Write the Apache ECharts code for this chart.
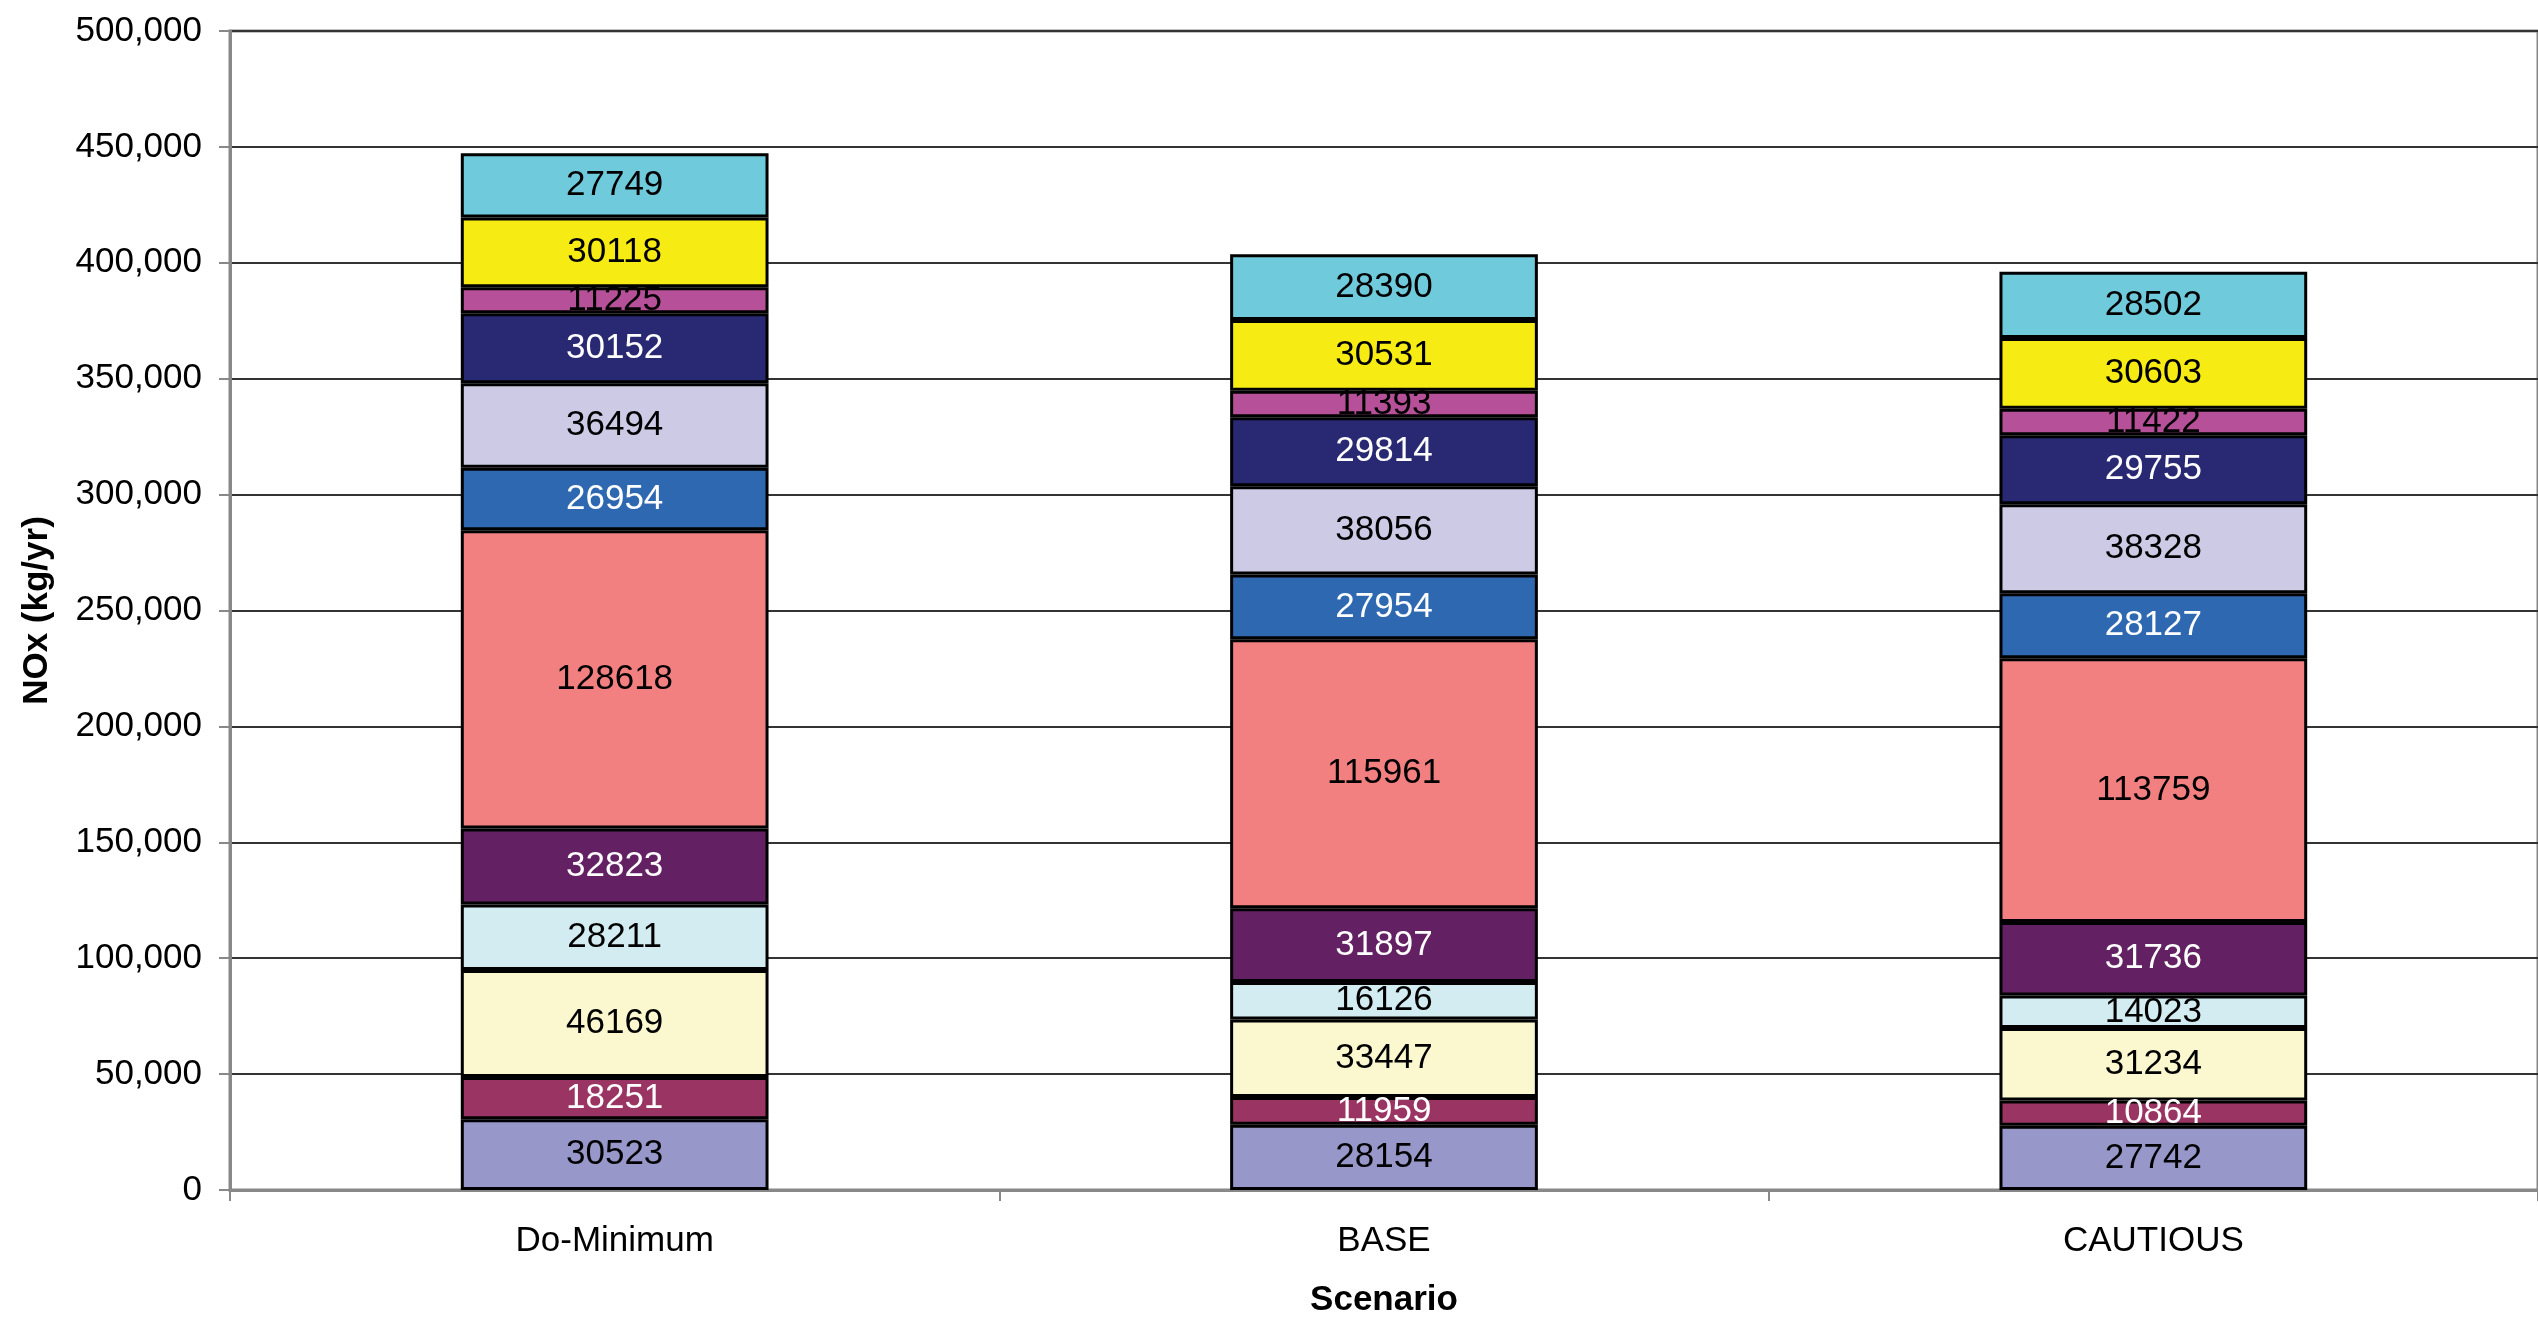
<!DOCTYPE html>
<html>
<head>
<meta charset="utf-8">
<script src="https://cdn.jsdelivr.net/npm/echarts@6/dist/echarts.min.js"></script>
<style>
html,body{margin:0;padding:0;background:#fff;}
#chart{width:2538px;height:1323px;}
</style>
</head>
<body>
<div id="chart"></div>
<script>
const categories = ['Do-Minimum', 'BASE', 'CAUTIOUS'];
const s1 = [30523, 28154, 27742];
const s2 = [18251, 11959, 10864];
const s3 = [46169, 33447, 31234];
const s4 = [28211, 16126, 14023];
const s5 = [32823, 31897, 31736];
const s6 = [128618, 115961, 113759];
const s7 = [26954, 27954, 28127];
const s8 = [36494, 38056, 38328];
const s9 = [30152, 29814, 29755];
const s10 = [11225, 11393, 11422];
const s11 = [30118, 30531, 30603];
const s12 = [27749, 28390, 28502];
const seriesData = [s1, s2, s3, s4, s5, s6, s7, s8, s9, s10, s11, s12];
const colors = ['#9797CA', '#993463', '#FBF8D0', '#D2ECF2', '#632062', '#F28080',
                '#2E68B0', '#CDCAE6', '#282873', '#B65199', '#F6EC14', '#6FCADC'];
const labelColors = ['#000', '#fff', '#000', '#000', '#fff', '#000',
                     '#fff', '#000', '#fff', '#000', '#000', '#000'];
const yTicks = { min: 0, max: 500000, interval: 50000 };

const chart = echarts.init(document.getElementById('chart'));
const font = 'Arial, "Liberation Sans", sans-serif';
chart.setOption({
  animation: false,
  backgroundColor: '#fff',
  grid: { left: 230, top: 31, bottom: 128, right: -20, show: true, borderColor: '#888', borderWidth: 3, containLabel: false },
  xAxis: {
    type: 'category',
    data: categories,
    name: 'Scenario',
    nameLocation: 'middle',
    nameGap: 93,
    nameTextStyle: { fontFamily: font, fontSize: 35, fontWeight: 'bold', color: '#000' },
    axisLine: { lineStyle: { color: '#888', width: 3 } },
    axisTick: { show: true, alignWithLabel: false, length: 11, lineStyle: { color: '#888', width: 2 } },
    axisLabel: { fontFamily: font, fontSize: 35, color: '#000', margin: 34 }
  },
  yAxis: {
    type: 'value',
    min: yTicks.min, max: yTicks.max, interval: yTicks.interval,
    name: 'NOx (kg/yr)',
    nameLocation: 'middle',
    nameGap: 175,
    nameRotate: 90,
    nameTextStyle: { fontFamily: font, fontSize: 35, fontWeight: 'bold', color: '#000' },
    axisLine: { show: true, lineStyle: { color: '#888', width: 3 } },
    axisTick: { show: true, length: 11, lineStyle: { color: '#888', width: 2 } },
    splitLine: { show: true, lineStyle: { color: '#333', width: 2 } },
    axisLabel: {
      fontFamily: font, fontSize: 35, color: '#000', margin: 28,
      formatter: v => v.toLocaleString('en-US')
    }
  },
  series: seriesData.map((d, i) => ({
    type: 'bar',
    stack: 'total',
    data: d,
    barWidth: '40%',
    itemStyle: { color: colors[i], borderColor: '#000', borderWidth: 3 },
    label: {
      show: true, position: 'inside',
      fontFamily: font, fontSize: 35, color: labelColors[i],
      textBorderWidth: 0
    }
  }))
});
</script>
</body>
</html>
